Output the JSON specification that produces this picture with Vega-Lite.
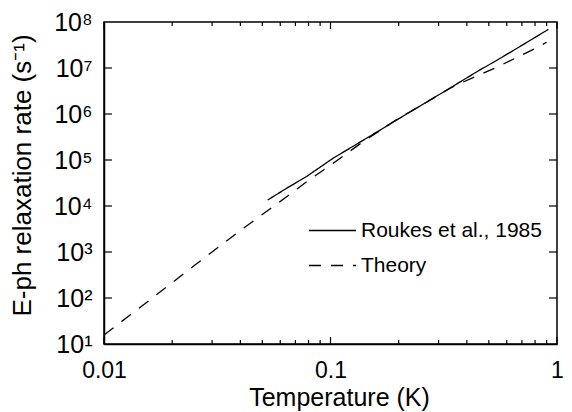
{
  "$schema": "https://vega.github.io/schema/vega-lite/v6.json",
  "autosize": {"type": "none"},
  "width": 453,
  "height": 322,
  "padding": {"left": 104, "top": 22, "right": 15, "bottom": 68},
  "background": "white",
  "config": {
    "view": {"stroke": "black", "strokeWidth": 1.5},
    "font": "Liberation Sans"
  },
  "datasets": {
    "curves": [
      {"T": 0.0528, "rate": 13490, "series": "Roukes et al., 1985"},
      {"T": 0.0640, "rate": 24270, "series": "Roukes et al., 1985"},
      {"T": 0.0783, "rate": 43650, "series": "Roukes et al., 1985"},
      {"T": 0.1028, "rate": 109600, "series": "Roukes et al., 1985"},
      {"T": 0.1656, "rate": 446700, "series": "Roukes et al., 1985"},
      {"T": 0.1959, "rate": 741300, "series": "Roukes et al., 1985"},
      {"T": 0.2323, "rate": 1222000, "series": "Roukes et al., 1985"},
      {"T": 0.3258, "rate": 3311000, "series": "Roukes et al., 1985"},
      {"T": 0.4266, "rate": 7413000, "series": "Roukes et al., 1985"},
      {"T": 0.4571, "rate": 9120000, "series": "Roukes et al., 1985"},
      {"T": 0.5224, "rate": 13180000, "series": "Roukes et al., 1985"},
      {"T": 0.6412, "rate": 23990000, "series": "Roukes et al., 1985"},
      {"T": 0.9162, "rate": 69180000, "series": "Roukes et al., 1985"},
      {"T": 0.01, "rate": 15.7, "series": "Theory"},
      {"T": 0.01585, "rate": 89.1, "series": "Theory"},
      {"T": 0.02512, "rate": 512.9, "series": "Theory"},
      {"T": 0.03981, "rate": 2884, "series": "Theory"},
      {"T": 0.0640, "rate": 15850, "series": "Theory"},
      {"T": 0.0804, "rate": 36730, "series": "Theory"},
      {"T": 0.1, "rate": 77620, "series": "Theory"},
      {"T": 0.1396, "rate": 251200, "series": "Theory"},
      {"T": 0.1959, "rate": 758600, "series": "Theory"},
      {"T": 0.2748, "rate": 1995000, "series": "Theory"},
      {"T": 0.3373, "rate": 3631000, "series": "Theory"},
      {"T": 0.3855, "rate": 4966000, "series": "Theory"},
      {"T": 0.5224, "rate": 9550000, "series": "Theory"},
      {"T": 0.6531, "rate": 16220000, "series": "Theory"},
      {"T": 0.8128, "rate": 27540000, "series": "Theory"},
      {"T": 0.8995, "rate": 36310000, "series": "Theory"}
    ],
    "xticks": [
      {"T": 0.01, "kind": "major"}, {"T": 0.02, "kind": "minor"}, {"T": 0.03, "kind": "minor"},
      {"T": 0.04, "kind": "minor"}, {"T": 0.05, "kind": "minor"}, {"T": 0.06, "kind": "minor"},
      {"T": 0.07, "kind": "minor"}, {"T": 0.08, "kind": "minor"}, {"T": 0.09, "kind": "minor"},
      {"T": 0.1, "kind": "major"}, {"T": 0.2, "kind": "minor"}, {"T": 0.3, "kind": "minor"},
      {"T": 0.4, "kind": "minor"}, {"T": 0.5, "kind": "minor"}, {"T": 0.6, "kind": "minor"},
      {"T": 0.7, "kind": "minor"}, {"T": 0.8, "kind": "minor"}, {"T": 0.9, "kind": "minor"},
      {"T": 1, "kind": "major"}
    ],
    "yticks": [
      {"rate": 100}, {"rate": 1000}, {"rate": 10000}, {"rate": 100000},
      {"rate": 1000000}, {"rate": 10000000}
    ]
  },
  "layer": [
    {
      "data": {"name": "curves"},
      "mark": {"type": "line", "color": "black", "strokeWidth": 1.3},
      "encoding": {
        "x": {
          "field": "T", "type": "quantitative",
          "scale": {"type": "log", "domain": [0.01, 1], "nice": false},
          "axis": {
            "orient": "bottom",
            "title": "Temperature (K)",
            "values": [0.01, 0.1, 1],
            "labelExpr": "datum.value == 0.01 ? '0.01' : datum.value == 0.1 ? '0.1' : '1'",
            "ticks": false, "grid": false,
            "domainColor": "black", "domainWidth": 1.5,
            "labelColor": "black", "titleColor": "black",
            "labelFont": "Liberation Sans", "titleFont": "Liberation Sans",
            "labelFontSize": 23, "titleFontSize": 25, "titleFontWeight": "normal",
            "labelOverlap": false, "labelFlush": false,
            "labelPadding": 15,
            "titleX": 235, "titleY": 41
          }
        },
        "y": {
          "field": "rate", "type": "quantitative",
          "scale": {"type": "log", "domain": [10, 100000000], "nice": false},
          "axis": {
            "orient": "left",
            "title": "E-ph relaxation rate (s⁻¹)",
            "values": [10, 100, 1000, 10000, 100000, 1000000, 10000000, 100000000],
            "labelExpr": "'10' + ['⁰','¹','²','³','⁴','⁵','⁶','⁷','⁸'][round(log(datum.value)/LN10)]",
            "ticks": false, "grid": false,
            "domainColor": "black", "domainWidth": 1.5,
            "labelColor": "black", "titleColor": "black",
            "labelFont": "Liberation Sans", "titleFont": "Liberation Sans",
            "labelFontSize": 25, "titleFontSize": 26, "titleFontWeight": "normal",
            "labelOverlap": false,
            "labelPadding": 12,
            "titleX": -69, "titleY": 153
          }
        },
        "strokeDash": {
          "field": "series", "type": "nominal",
          "scale": {"domain": ["Roukes et al., 1985", "Theory"], "range": [[1, 0], [12, 10]]},
          "legend": {
            "title": null, "orient": "none", "legendX": 204, "legendY": 184,
            "labelFontSize": 21, "labelFont": "Liberation Sans", "labelColor": "black", "labelLimit": 300,
            "symbolSize": 2209, "symbolStrokeWidth": 1.3, "symbolStrokeColor": "black",
            "labelOffset": 4, "padding": 0, "rowPadding": -10
          }
        }
      }
    },
    {
      "data": {"name": "xticks"},
      "transform": [{"filter": "datum.kind == 'major'"}],
      "mark": {"type": "rule", "color": "black", "strokeWidth": 1.2},
      "encoding": {
        "x": {"field": "T", "type": "quantitative"},
        "y": {"datum": 10},
        "y2": {"datum": 14.2}
      }
    },
    {
      "data": {"name": "xticks"},
      "transform": [{"filter": "datum.kind == 'major'"}],
      "mark": {"type": "rule", "color": "black", "strokeWidth": 1.2},
      "encoding": {
        "x": {"field": "T", "type": "quantitative"},
        "y": {"datum": 100000000},
        "y2": {"datum": 70400000}
      }
    },
    {
      "data": {"name": "xticks"},
      "transform": [{"filter": "datum.kind == 'minor'"}],
      "mark": {"type": "rule", "color": "black", "strokeWidth": 1.2},
      "encoding": {
        "x": {"field": "T", "type": "quantitative"},
        "y": {"datum": 10},
        "y2": {"datum": 12.2}
      }
    },
    {
      "data": {"name": "xticks"},
      "transform": [{"filter": "datum.kind == 'minor'"}],
      "mark": {"type": "rule", "color": "black", "strokeWidth": 1.2},
      "encoding": {
        "x": {"field": "T", "type": "quantitative"},
        "y": {"datum": 100000000},
        "y2": {"datum": 82000000}
      }
    },
    {
      "data": {"name": "yticks"},
      "mark": {"type": "rule", "color": "black", "strokeWidth": 1.2},
      "encoding": {
        "y": {"field": "rate", "type": "quantitative"},
        "x": {"datum": 0.01},
        "x2": {"datum": 0.01085}
      }
    },
    {
      "data": {"name": "yticks"},
      "mark": {"type": "rule", "color": "black", "strokeWidth": 1.2},
      "encoding": {
        "y": {"field": "rate", "type": "quantitative"},
        "x": {"datum": 1},
        "x2": {"datum": 0.9218}
      }
    }
  ]
}
